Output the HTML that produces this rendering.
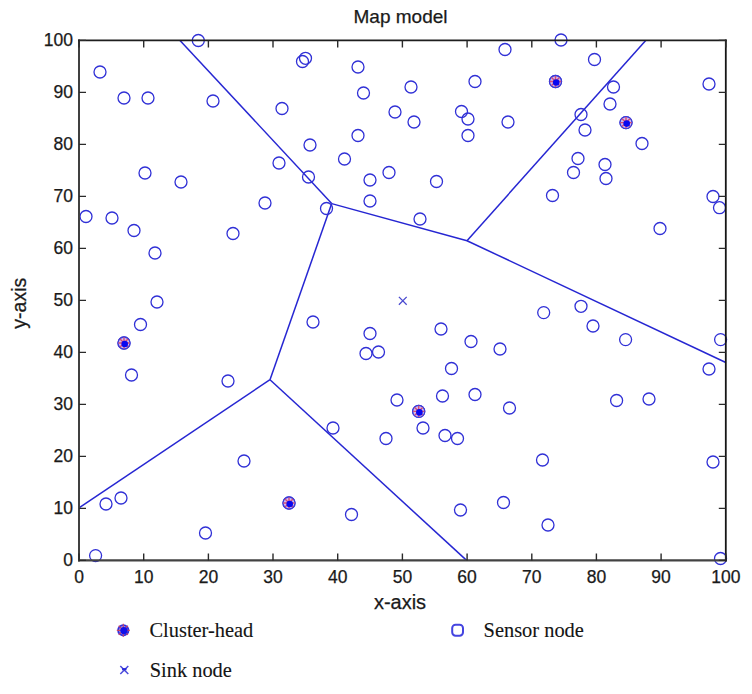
<!DOCTYPE html>
<html><head><meta charset="utf-8"><style>
html,body{margin:0;padding:0;background:#fff;}
body{width:752px;height:694px;overflow:hidden;}
svg{display:block;}
.s{font-family:"Liberation Sans",sans-serif;fill:#1a1a1a;stroke:#1a1a1a;stroke-width:0.25px;}
.r{font-family:"Liberation Serif",serif;fill:#141414;stroke:#141414;stroke-width:0.12px;}
</style></head><body>
<svg width="752" height="694" viewBox="0 0 752 694">
<rect width="752" height="694" fill="#fff"/>

<text class="s" x="400.5" y="23.4" font-size="19" text-anchor="middle">Map model</text>
<line x1="331.7" y1="203.6" x2="180" y2="40.4" stroke="#2626d2" stroke-width="1.5"/>
<line x1="331.7" y1="203.6" x2="270" y2="379.7" stroke="#2626d2" stroke-width="1.5"/>
<line x1="331.7" y1="203.6" x2="467" y2="240.7" stroke="#2626d2" stroke-width="1.5"/>
<line x1="467" y1="240.7" x2="645.7" y2="40.4" stroke="#2626d2" stroke-width="1.5"/>
<line x1="467" y1="240.7" x2="725.8" y2="362.5" stroke="#2626d2" stroke-width="1.5"/>
<line x1="270" y1="379.7" x2="79" y2="507.8" stroke="#2626d2" stroke-width="1.5"/>
<line x1="270" y1="379.7" x2="466.6" y2="560.4" stroke="#2626d2" stroke-width="1.5"/>
<circle cx="100" cy="72" r="6" fill="none" stroke="#3030d6" stroke-width="1.3"/>
<circle cx="124" cy="98" r="6" fill="none" stroke="#3030d6" stroke-width="1.3"/>
<circle cx="148" cy="98" r="6" fill="none" stroke="#3030d6" stroke-width="1.3"/>
<circle cx="198.3" cy="40.5" r="6" fill="none" stroke="#3030d6" stroke-width="1.3"/>
<circle cx="213" cy="101" r="6" fill="none" stroke="#3030d6" stroke-width="1.3"/>
<circle cx="145" cy="173" r="6" fill="none" stroke="#3030d6" stroke-width="1.3"/>
<circle cx="181" cy="182" r="6" fill="none" stroke="#3030d6" stroke-width="1.3"/>
<circle cx="86" cy="216.5" r="6" fill="none" stroke="#3030d6" stroke-width="1.3"/>
<circle cx="112" cy="218" r="6" fill="none" stroke="#3030d6" stroke-width="1.3"/>
<circle cx="134" cy="230.5" r="6" fill="none" stroke="#3030d6" stroke-width="1.3"/>
<circle cx="155" cy="253" r="6" fill="none" stroke="#3030d6" stroke-width="1.3"/>
<circle cx="233" cy="233.5" r="6" fill="none" stroke="#3030d6" stroke-width="1.3"/>
<circle cx="157" cy="302" r="6" fill="none" stroke="#3030d6" stroke-width="1.3"/>
<circle cx="140.5" cy="324.5" r="6" fill="none" stroke="#3030d6" stroke-width="1.3"/>
<circle cx="124" cy="343" r="6" fill="none" stroke="#3030d6" stroke-width="1.3"/>
<circle cx="131.5" cy="375" r="6" fill="none" stroke="#3030d6" stroke-width="1.3"/>
<circle cx="228" cy="381" r="6" fill="none" stroke="#3030d6" stroke-width="1.3"/>
<circle cx="106" cy="504" r="6" fill="none" stroke="#3030d6" stroke-width="1.3"/>
<circle cx="121" cy="498" r="6" fill="none" stroke="#3030d6" stroke-width="1.3"/>
<circle cx="205.5" cy="533" r="6" fill="none" stroke="#3030d6" stroke-width="1.3"/>
<circle cx="95.6" cy="555.6" r="6" fill="none" stroke="#3030d6" stroke-width="1.3"/>
<circle cx="244" cy="461" r="6" fill="none" stroke="#3030d6" stroke-width="1.3"/>
<circle cx="302.5" cy="61.5" r="6" fill="none" stroke="#3030d6" stroke-width="1.3"/>
<circle cx="305.5" cy="58.3" r="6" fill="none" stroke="#3030d6" stroke-width="1.3"/>
<circle cx="358" cy="67" r="6" fill="none" stroke="#3030d6" stroke-width="1.3"/>
<circle cx="363.5" cy="93" r="6" fill="none" stroke="#3030d6" stroke-width="1.3"/>
<circle cx="282" cy="108.5" r="6" fill="none" stroke="#3030d6" stroke-width="1.3"/>
<circle cx="395" cy="112" r="6" fill="none" stroke="#3030d6" stroke-width="1.3"/>
<circle cx="358" cy="135.5" r="6" fill="none" stroke="#3030d6" stroke-width="1.3"/>
<circle cx="310" cy="145" r="6" fill="none" stroke="#3030d6" stroke-width="1.3"/>
<circle cx="344.5" cy="159" r="6" fill="none" stroke="#3030d6" stroke-width="1.3"/>
<circle cx="279" cy="163" r="6" fill="none" stroke="#3030d6" stroke-width="1.3"/>
<circle cx="389" cy="172.5" r="6" fill="none" stroke="#3030d6" stroke-width="1.3"/>
<circle cx="308.5" cy="177" r="6" fill="none" stroke="#3030d6" stroke-width="1.3"/>
<circle cx="265" cy="203" r="6" fill="none" stroke="#3030d6" stroke-width="1.3"/>
<circle cx="326.5" cy="208.5" r="6" fill="none" stroke="#3030d6" stroke-width="1.3"/>
<circle cx="370" cy="180" r="6" fill="none" stroke="#3030d6" stroke-width="1.3"/>
<circle cx="370" cy="201" r="6" fill="none" stroke="#3030d6" stroke-width="1.3"/>
<circle cx="313" cy="322" r="6" fill="none" stroke="#3030d6" stroke-width="1.3"/>
<circle cx="370" cy="333.5" r="6" fill="none" stroke="#3030d6" stroke-width="1.3"/>
<circle cx="366" cy="353.5" r="6" fill="none" stroke="#3030d6" stroke-width="1.3"/>
<circle cx="378.5" cy="352" r="6" fill="none" stroke="#3030d6" stroke-width="1.3"/>
<circle cx="397" cy="400" r="6" fill="none" stroke="#3030d6" stroke-width="1.3"/>
<circle cx="333" cy="428" r="6" fill="none" stroke="#3030d6" stroke-width="1.3"/>
<circle cx="386" cy="438.5" r="6" fill="none" stroke="#3030d6" stroke-width="1.3"/>
<circle cx="289" cy="503" r="6" fill="none" stroke="#3030d6" stroke-width="1.3"/>
<circle cx="351.5" cy="514.5" r="6" fill="none" stroke="#3030d6" stroke-width="1.3"/>
<circle cx="505" cy="49.5" r="6" fill="none" stroke="#3030d6" stroke-width="1.3"/>
<circle cx="561" cy="40" r="6" fill="none" stroke="#3030d6" stroke-width="1.3"/>
<circle cx="411" cy="87" r="6" fill="none" stroke="#3030d6" stroke-width="1.3"/>
<circle cx="475" cy="81.5" r="6" fill="none" stroke="#3030d6" stroke-width="1.3"/>
<circle cx="555.5" cy="81.5" r="6" fill="none" stroke="#3030d6" stroke-width="1.3"/>
<circle cx="414" cy="122" r="6" fill="none" stroke="#3030d6" stroke-width="1.3"/>
<circle cx="461.5" cy="111.5" r="6" fill="none" stroke="#3030d6" stroke-width="1.3"/>
<circle cx="468" cy="119" r="6" fill="none" stroke="#3030d6" stroke-width="1.3"/>
<circle cx="468" cy="135.5" r="6" fill="none" stroke="#3030d6" stroke-width="1.3"/>
<circle cx="508" cy="122" r="6" fill="none" stroke="#3030d6" stroke-width="1.3"/>
<circle cx="436.5" cy="181.5" r="6" fill="none" stroke="#3030d6" stroke-width="1.3"/>
<circle cx="420" cy="219" r="6" fill="none" stroke="#3030d6" stroke-width="1.3"/>
<circle cx="552.5" cy="195.5" r="6" fill="none" stroke="#3030d6" stroke-width="1.3"/>
<circle cx="543.7" cy="312.6" r="6" fill="none" stroke="#3030d6" stroke-width="1.3"/>
<circle cx="441" cy="329" r="6" fill="none" stroke="#3030d6" stroke-width="1.3"/>
<circle cx="471" cy="341.5" r="6" fill="none" stroke="#3030d6" stroke-width="1.3"/>
<circle cx="500" cy="349" r="6" fill="none" stroke="#3030d6" stroke-width="1.3"/>
<circle cx="451.5" cy="368.5" r="6" fill="none" stroke="#3030d6" stroke-width="1.3"/>
<circle cx="442.5" cy="396" r="6" fill="none" stroke="#3030d6" stroke-width="1.3"/>
<circle cx="475" cy="394.5" r="6" fill="none" stroke="#3030d6" stroke-width="1.3"/>
<circle cx="509.5" cy="408" r="6" fill="none" stroke="#3030d6" stroke-width="1.3"/>
<circle cx="418.7" cy="411.4" r="6" fill="none" stroke="#3030d6" stroke-width="1.3"/>
<circle cx="423" cy="428" r="6" fill="none" stroke="#3030d6" stroke-width="1.3"/>
<circle cx="445" cy="435.5" r="6" fill="none" stroke="#3030d6" stroke-width="1.3"/>
<circle cx="457.5" cy="438.5" r="6" fill="none" stroke="#3030d6" stroke-width="1.3"/>
<circle cx="542.5" cy="460" r="6" fill="none" stroke="#3030d6" stroke-width="1.3"/>
<circle cx="503.5" cy="502.5" r="6" fill="none" stroke="#3030d6" stroke-width="1.3"/>
<circle cx="460.5" cy="510" r="6" fill="none" stroke="#3030d6" stroke-width="1.3"/>
<circle cx="548" cy="525" r="6" fill="none" stroke="#3030d6" stroke-width="1.3"/>
<circle cx="594.5" cy="59.5" r="6" fill="none" stroke="#3030d6" stroke-width="1.3"/>
<circle cx="613.5" cy="87" r="6" fill="none" stroke="#3030d6" stroke-width="1.3"/>
<circle cx="610" cy="104" r="6" fill="none" stroke="#3030d6" stroke-width="1.3"/>
<circle cx="581" cy="114.5" r="6" fill="none" stroke="#3030d6" stroke-width="1.3"/>
<circle cx="626" cy="122.6" r="6" fill="none" stroke="#3030d6" stroke-width="1.3"/>
<circle cx="585" cy="130" r="6" fill="none" stroke="#3030d6" stroke-width="1.3"/>
<circle cx="642" cy="143.5" r="6" fill="none" stroke="#3030d6" stroke-width="1.3"/>
<circle cx="709" cy="84" r="6" fill="none" stroke="#3030d6" stroke-width="1.3"/>
<circle cx="578" cy="158.5" r="6" fill="none" stroke="#3030d6" stroke-width="1.3"/>
<circle cx="605" cy="164.5" r="6" fill="none" stroke="#3030d6" stroke-width="1.3"/>
<circle cx="573.5" cy="172.5" r="6" fill="none" stroke="#3030d6" stroke-width="1.3"/>
<circle cx="606" cy="178.5" r="6" fill="none" stroke="#3030d6" stroke-width="1.3"/>
<circle cx="713" cy="196.5" r="6" fill="none" stroke="#3030d6" stroke-width="1.3"/>
<circle cx="719.5" cy="207.7" r="6" fill="none" stroke="#3030d6" stroke-width="1.3"/>
<circle cx="660" cy="228.5" r="6" fill="none" stroke="#3030d6" stroke-width="1.3"/>
<circle cx="581" cy="306.3" r="6" fill="none" stroke="#3030d6" stroke-width="1.3"/>
<circle cx="593" cy="326" r="6" fill="none" stroke="#3030d6" stroke-width="1.3"/>
<circle cx="625.6" cy="339.6" r="6" fill="none" stroke="#3030d6" stroke-width="1.3"/>
<circle cx="720.6" cy="339.6" r="6" fill="none" stroke="#3030d6" stroke-width="1.3"/>
<circle cx="709" cy="369" r="6" fill="none" stroke="#3030d6" stroke-width="1.3"/>
<circle cx="616.6" cy="400.5" r="6" fill="none" stroke="#3030d6" stroke-width="1.3"/>
<circle cx="649" cy="399" r="6" fill="none" stroke="#3030d6" stroke-width="1.3"/>
<circle cx="713" cy="462" r="6" fill="none" stroke="#3030d6" stroke-width="1.3"/>
<circle cx="720.5" cy="558.5" r="6" fill="none" stroke="#3030d6" stroke-width="1.3"/>
<circle cx="124" cy="343" r="6" fill="#cfbcee" stroke="#3a3ad8" stroke-width="1.3"/>
<path d="M118.4 343H129.6M124 337.4V348.6M120.04024 339.04024L127.95976 346.95976M120.04024 346.95976L127.95976 339.04024" stroke="#d84a78" stroke-width="1.4" fill="none"/>
<circle cx="124.7" cy="344.0" r="3.3" fill="#0808f0"/>
<circle cx="289" cy="503" r="6" fill="#cfbcee" stroke="#3a3ad8" stroke-width="1.3"/>
<path d="M283.4 503H294.6M289 497.4V508.6M285.04024 499.04024L292.95976 506.95976M285.04024 506.95976L292.95976 499.04024" stroke="#d84a78" stroke-width="1.4" fill="none"/>
<circle cx="289.7" cy="504.0" r="3.3" fill="#0808f0"/>
<circle cx="555.5" cy="81.5" r="6" fill="#cfbcee" stroke="#3a3ad8" stroke-width="1.3"/>
<path d="M549.9 81.5H561.1M555.5 75.9V87.1M551.54024 77.54024L559.45976 85.45976M551.54024 85.45976L559.45976 77.54024" stroke="#d84a78" stroke-width="1.4" fill="none"/>
<circle cx="556.2" cy="82.5" r="3.3" fill="#0808f0"/>
<circle cx="418.7" cy="411.4" r="6" fill="#cfbcee" stroke="#3a3ad8" stroke-width="1.3"/>
<path d="M413.09999999999997 411.4H424.3M418.7 405.79999999999995V417.0M414.74024 407.44023999999996L422.65976 415.35976M414.74024 415.35976L422.65976 407.44023999999996" stroke="#d84a78" stroke-width="1.4" fill="none"/>
<circle cx="419.4" cy="412.4" r="3.3" fill="#0808f0"/>
<circle cx="626" cy="122.6" r="6" fill="#cfbcee" stroke="#3a3ad8" stroke-width="1.3"/>
<path d="M620.4 122.6H631.6M626 117.0V128.2M622.04024 118.64023999999999L629.95976 126.55976M622.04024 126.55976L629.95976 118.64023999999999" stroke="#d84a78" stroke-width="1.4" fill="none"/>
<circle cx="626.7" cy="123.6" r="3.3" fill="#0808f0"/>
<path d="M398.90000000000003 296.90000000000003L406.7 304.7M398.90000000000003 304.7L406.7 296.90000000000003" stroke="#4a4ad0" stroke-width="1.3"/>
<path d="M79.0 39.6V561.5" stroke="#404040" stroke-width="2"/>
<path d="M78.0 560.4H726.6999999999999" stroke="#424242" stroke-width="2.2"/>
<path d="M78.0 40.4H726.6999999999999" stroke="#1e1e1e" stroke-width="1.6"/>
<path d="M725.8 39.6V561.5" stroke="#161616" stroke-width="1.8"/>
<path d="M79.0 560.4V553.4M79.0 40.4V47.4M79.0 560.4H86.0M725.8 560.4H718.8M143.7 560.4V553.4M143.7 40.4V47.4M79.0 508.4H86.0M725.8 508.4H718.8M208.4 560.4V553.4M208.4 40.4V47.4M79.0 456.4H86.0M725.8 456.4H718.8M273.0 560.4V553.4M273.0 40.4V47.4M79.0 404.4H86.0M725.8 404.4H718.8M337.7 560.4V553.4M337.7 40.4V47.4M79.0 352.4H86.0M725.8 352.4H718.8M402.4 560.4V553.4M402.4 40.4V47.4M79.0 300.4H86.0M725.8 300.4H718.8M467.1 560.4V553.4M467.1 40.4V47.4M79.0 248.4H86.0M725.8 248.4H718.8M531.8 560.4V553.4M531.8 40.4V47.4M79.0 196.4H86.0M725.8 196.4H718.8M596.4 560.4V553.4M596.4 40.4V47.4M79.0 144.4H86.0M725.8 144.4H718.8M661.1 560.4V553.4M661.1 40.4V47.4M79.0 92.4H86.0M725.8 92.4H718.8M725.8 560.4V553.4M725.8 40.4V47.4M79.0 40.4H86.0M725.8 40.4H718.8" stroke="#2a2a2a" stroke-width="1.4" fill="none"/>
<text class="s" x="79.0" y="583" font-size="17.5" text-anchor="middle">0</text>
<text class="s" x="73" y="565.9" font-size="17.5" text-anchor="end">0</text>
<text class="s" x="143.7" y="583" font-size="17.5" text-anchor="middle">10</text>
<text class="s" x="73" y="513.9" font-size="17.5" text-anchor="end">10</text>
<text class="s" x="208.4" y="583" font-size="17.5" text-anchor="middle">20</text>
<text class="s" x="73" y="461.9" font-size="17.5" text-anchor="end">20</text>
<text class="s" x="273.0" y="583" font-size="17.5" text-anchor="middle">30</text>
<text class="s" x="73" y="409.9" font-size="17.5" text-anchor="end">30</text>
<text class="s" x="337.7" y="583" font-size="17.5" text-anchor="middle">40</text>
<text class="s" x="73" y="357.9" font-size="17.5" text-anchor="end">40</text>
<text class="s" x="402.4" y="583" font-size="17.5" text-anchor="middle">50</text>
<text class="s" x="73" y="305.9" font-size="17.5" text-anchor="end">50</text>
<text class="s" x="467.1" y="583" font-size="17.5" text-anchor="middle">60</text>
<text class="s" x="73" y="253.9" font-size="17.5" text-anchor="end">60</text>
<text class="s" x="531.8" y="583" font-size="17.5" text-anchor="middle">70</text>
<text class="s" x="73" y="201.9" font-size="17.5" text-anchor="end">70</text>
<text class="s" x="596.4" y="583" font-size="17.5" text-anchor="middle">80</text>
<text class="s" x="73" y="149.9" font-size="17.5" text-anchor="end">80</text>
<text class="s" x="661.1" y="583" font-size="17.5" text-anchor="middle">90</text>
<text class="s" x="73" y="97.9" font-size="17.5" text-anchor="end">90</text>
<text class="s" x="725.8" y="583" font-size="17.5" text-anchor="middle">100</text>
<text class="s" x="73" y="45.9" font-size="17.5" text-anchor="end">100</text>
<text class="s" x="400" y="608.7" font-size="20" text-anchor="middle">x-axis</text>
<text class="s" x="0" y="0" font-size="19.5" text-anchor="middle" transform="translate(26.4 303.2) rotate(-90)">y-axis</text>
<circle cx="123.3" cy="630.3" r="5.2" fill="#a898ec" stroke="#3030e0" stroke-width="1.8"/>
<path d="M116.8 630.3H129.8M123.3 623.8V636.8M118.70385 625.70385L127.89614999999999 634.8961499999999M118.70385 634.8961499999999L127.89614999999999 625.70385" stroke="#c84068" stroke-width="1.2" fill="none"/>
<circle cx="123.89999999999999" cy="630.5999999999999" r="3.6" fill="#1010e8"/>
<text class="r" x="149.5" y="636.6" font-size="20.4">Cluster-head</text>
<rect x="452.2" y="624.7" width="10.8" height="11" rx="3.4" fill="none" stroke="#4444e0" stroke-width="2"/>
<text class="r" x="483.6" y="636.6" font-size="20.4">Sensor node</text>
<path d="M120.3 666.0L128.3 674.0M120.3 674.0L128.3 666.0" stroke="#4a4adc" stroke-width="1.5"/>
<path d="M122.1 669.2H126.5" stroke="#2a2ad8" stroke-width="2.2"/>
<text class="r" x="149.7" y="676.5" font-size="20.4">Sink node</text>
</svg>
</body></html>
